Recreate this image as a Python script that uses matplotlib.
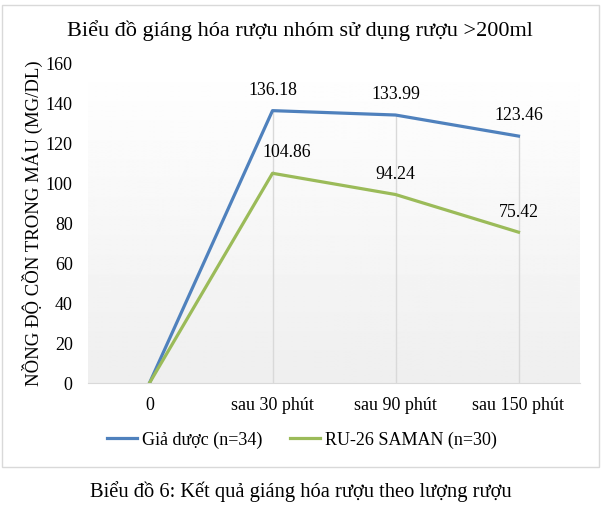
import numpy as np
import matplotlib.pyplot as plt
from matplotlib.patches import Rectangle

plt.rcParams['font.family'] = ['Liberation Serif', 'DejaVu Serif']

categories = ['0', 'sau 30 phút', 'sau 90 phút', 'sau 150 phút']
gia_duoc = [0, 136.18, 133.99, 123.46]
ru26 = [0, 104.86, 94.24, 75.42]
series_names = ['Giả dược (n=34)', 'RU-26 SAMAN (n=30)']

W, H = 605, 515
fig = plt.figure(figsize=(W / 100, H / 100), dpi=100)

# khung ngoai
fig.patches.append(Rectangle((1.5 / W, 1 - 466.5 / H), 597 / W, 462 / H,
                             transform=fig.transFigure, fill=False,
                             edgecolor='#d9d9d9', linewidth=1))

ax = fig.add_axes([88 / W, 1 - 383 / H, 492 / W, 320 / H])
x = np.arange(len(categories))

# nen gradient
grad = np.linspace(1.0, 0.935, 256).reshape(-1, 1)
ax.imshow(grad, cmap='gray', vmin=0, vmax=1, aspect='auto',
          extent=[-0.5, 3.5, 0, 160], origin='upper', zorder=0)

# duong gióng xuong truc
ax.vlines(x[1:], 0, np.array(gia_duoc)[1:], color='#d9d9d9', linewidth=1, zorder=1)

blue = '#4f81bd'
green = '#9bbb59'
ax.plot(x, gia_duoc, color=blue, linewidth=2.3, label=series_names[0], zorder=3,
        solid_joinstyle='round')
ax.plot(x, ru26, color=green, linewidth=2.3, label=series_names[1], zorder=3,
        solid_joinstyle='round')

lbl = 12.8
for i in x[1:]:
    ax.annotate(f'{gia_duoc[i]:.2f}', (i, gia_duoc[i]), xytext=(0, 14.5),
                textcoords='offset points', ha='center', va='center', fontsize=lbl)
for i in x[1:]:
    if i == 1:
        ax.annotate(f'{ru26[i]:.2f}', (i, ru26[i]), xytext=(10, 15),
                    textcoords='offset points', ha='center', va='center', fontsize=lbl,
                    arrowprops=dict(arrowstyle='-', color='#a6a6a6', lw=0.6,
                                    shrinkA=7, shrinkB=1))
    else:
        ax.annotate(f'{ru26[i]:.2f}', (i, ru26[i]), xytext=(0, 14.5),
                    textcoords='offset points', ha='center', va='center', fontsize=lbl)

ax.set_xlim(-0.5, 3.5)
ax.set_ylim(0, 160)
ax.set_yticks(np.arange(0, 161, 20))
ax.set_xticks(x)
ax.set_xticklabels(categories)
ax.set_xticks([0], minor=True)
ax.tick_params(axis='x', which='major', length=0, pad=10, labelsize=13)
ax.tick_params(axis='x', which='minor', length=7, color='#bfbfbf', width=1)
ax.tick_params(axis='y', length=0, pad=11, labelsize=13)
for s in ['top', 'right', 'left']:
    ax.spines[s].set_visible(False)
ax.spines['bottom'].set_color('#d9d9d9')
ax.spines['bottom'].set_zorder(2)

fig.text(32 / W, 1 - 223 / H, 'NỒNG ĐỘ CỒN TRONG MÁU (MG/DL)', rotation=90,
         ha='center', va='center', fontsize=13.5)
fig.text(300 / W, 1 - 31 / H, 'Biểu đồ giáng hóa rượu nhóm sử dụng rượu >200ml',
         ha='center', va='center', fontsize=16)

fig.legend(loc='center left', bbox_to_anchor=(107 / W, 1 - 440 / H), ncol=2,
           frameon=False, fontsize=13, handlelength=1.65, handletextpad=0.28,
           columnspacing=1.55, borderpad=0, borderaxespad=0)

fig.text(301 / W, 1 - 492 / H, 'Biểu đồ 6: Kết quả giáng hóa rượu theo lượng rượu',
         ha='center', va='center', fontsize=14.8)

fig.savefig('out.png', dpi=100)
